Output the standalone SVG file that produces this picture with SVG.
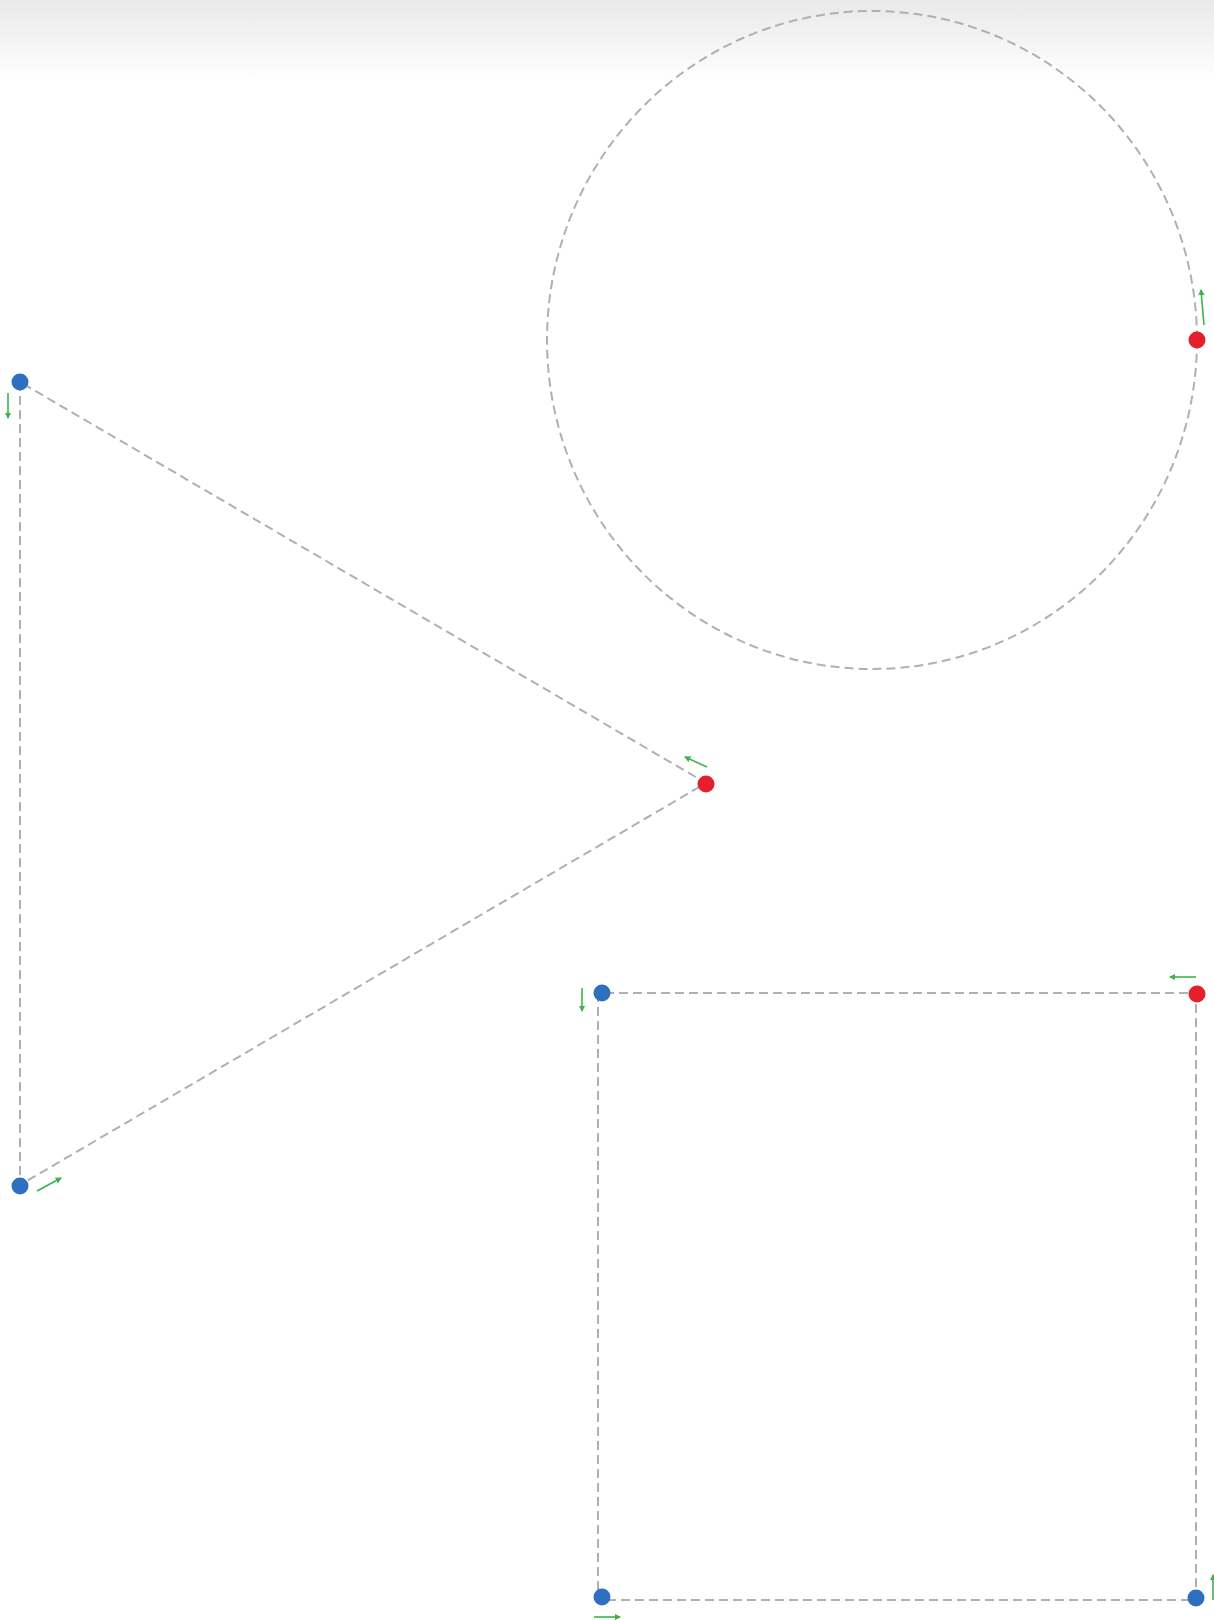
<svg xmlns="http://www.w3.org/2000/svg" width="1214" height="1620" viewBox="0 0 1214 1620">
<defs>
<linearGradient id="topg" x1="0" y1="0" x2="0" y2="1">
<stop offset="0" stop-color="#e9e9e9"/>
<stop offset="1" stop-color="#ffffff"/>
</linearGradient>
<marker id="ah" viewBox="0 0 6 6" refX="5" refY="3" markerWidth="4" markerHeight="4" orient="auto">
<path d="M0,0 L6,3 L0,6 Z" fill="#3cb44b"/>
</marker>
<style>
.path{fill:none;stroke:#b0b0b0;stroke-width:2;stroke-dasharray:9 5}
.dir{fill:none;stroke:#3cb44b;stroke-width:1.6;marker-end:url(#ah)}
.blue{fill:#2f6fc0}
.red{fill:#e3202c}
</style>
</defs>
<rect width="1214" height="1620" fill="#ffffff"/>
<rect width="1214" height="82" fill="url(#topg)"/>
<g id="connectors">
<ellipse class="path" cx="872" cy="340" rx="325" ry="329"/>
<path class="path" d="M20,382 L20,1185 L706,783 Z"/>
<path class="path" d="M598,993 L598,1600 L1196,1600 L1196,993 Z"/>
</g>
<g id="arrows">
<line class="dir" x1="1204" y1="325" x2="1201" y2="290"/>
<line class="dir" x1="8" y1="393" x2="8" y2="418"/>
<line class="dir" x1="37" y1="1191" x2="61" y2="1178"/>
<line class="dir" x1="707" y1="767" x2="685" y2="757"/>
<line class="dir" x1="582" y1="988" x2="582" y2="1011"/>
<line class="dir" x1="594" y1="1617" x2="620" y2="1617"/>
<line class="dir" x1="1213" y1="1600" x2="1213" y2="1575"/>
<line class="dir" x1="1196" y1="977" x2="1170" y2="977"/>
</g>
<g id="circle-start"><circle class="red" cx="1197" cy="340" r="8.5"/></g>
<g id="tri-a"><circle class="blue" cx="20" cy="382" r="8.5"/></g>
<g id="tri-b"><circle class="blue" cx="20" cy="1186" r="8.5"/></g>
<g id="tri-c"><circle class="red" cx="706" cy="784" r="8.5"/></g>
<g id="sq-tl"><circle class="blue" cx="602" cy="993" r="8.5"/></g>
<g id="sq-tr"><circle class="red" cx="1197" cy="994" r="8.5"/></g>
<g id="sq-bl"><circle class="blue" cx="602" cy="1597" r="8.5"/></g>
<g id="sq-br"><circle class="blue" cx="1196" cy="1598" r="8.5"/></g>
</svg>
